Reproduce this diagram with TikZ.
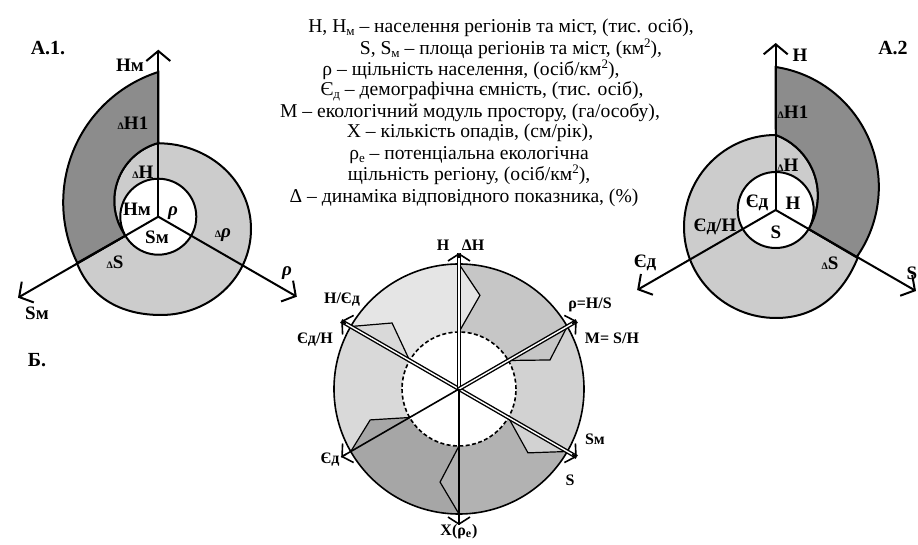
\documentclass[tikz,border=0pt]{standalone}
\usepackage{fontspec}
\setmainfont{Liberation Serif}
\usepackage{tikz}
\usetikzlibrary{calc,positioning,arrows.meta}

\newcommand{\smalldelta}{{\fontsize{5}{5}\selectfont Δ}}
\newcommand{\lsub}[1]{\raisebox{-0.25ex}{\fontsize{6.5}{7}\selectfont #1}}
\newcommand{\lsup}[1]{\raisebox{0.8ex}{\fontsize{6.5}{7}\selectfont #1}}

\begin{document}
\begin{tikzpicture}[
            x=0.5pt, y=0.5pt,
            axis/.style={-{Straight Barb[length=5pt,width=12pt]}, line width=1pt},
            ring/.style={draw, line width=1pt},
            light/.style={fill=gray!40},
            dark/.style={fill=gray!90},
            lbl/.style={font=\fontsize{9.5}{11}\selectfont\bfseries, inner sep=0pt},
            leg/.style={font=\fontsize{9.8}{11}\selectfont, anchor=base, inner sep=0pt, text height=6.8pt, text depth=1.8pt},
            rlbl/.style={font=\fontsize{8}{9}\selectfont\bfseries, inner sep=0pt},
            dbl/.style={double, double distance=0.7pt, line width=0.7pt},
            sgl/.style={line width=0.8pt},
            rtip/.style={-{Straight Barb[length=3.5pt,width=11pt]}, line width=0.8pt},
            profile/.style={line width=0.6pt},
            dashring/.style={draw, fill=white, line width=0.8pt, dash pattern=on 2pt off 1.2pt}
        ]
        \useasboundingbox (0,0) rectangle (918,-545);

        % --- LEGEND ---
        \node[leg] (leg1) at (501,-33) {H, H\lsub{м} – населення регіонів та міст, (тис. осіб),};
        \node[leg] (leg2) at (511,-55) {S, S\lsub{м} – площа регіонів та міст, (км\lsup{2}),};
        \node[leg] (leg3) at (471,-76) {ρ – щільність населення, (осіб/км\lsup{2}),};
        \node[leg] (leg4) at (482,-96) {Є\lsub{д} – демографічна ємність, (тис. осіб),};
        \node[leg] (leg5) at (470,-118) {М – екологічний модуль простору, (га/особу),};
        \node[leg] (leg6) at (470,-138) {Х – кількість опадів, (см/рік),};
        \node[leg] (leg7) at (469,-160) {ρ\lsub{е} – потенціальна екологічна};
        \node[leg] (leg8) at (469,-181) {щільність регіону, (осіб/км\lsup{2}),};
        \node[leg] (leg9) at (464,-203) {Δ – динаміка відповідного показника, (\%)};

        % --- A.1 ---
        \coordinate (o1) at (158.3,-216.7);
        \coordinate (o1h) at ($(o1)+(90:167)$);
        \coordinate (o1s) at ($(o1)+(210:162)$);
        \coordinate (o1r) at ($(o1)+(330:160)$);
        \path[light, ring] (158.3,-143.3) to[out=0,in=90] (251,-229) to[out=-90,in=0] (161,-315)
            to[out=180,in=-68] (77.1,-263.6) -- (125.4,-235.7)
            arc[start angle=215.5,end angle=105.4,radius=60] -- cycle;
        \path[dark, ring] (158.3,-72) arc[start angle=107.8,end angle=206.2,radius=137]
            -- (125.4,-235.7) arc[start angle=215.5,end angle=105.4,radius=60] -- cycle;
        \draw[ring, fill=white] (o1) circle[radius=38];
        \draw[axis] (o1) -- (o1h);
        \draw[axis] (o1) -- (o1s);
        \draw[axis] (o1) -- (o1r);

        \node[lbl, font=\fontsize{10}{11}\selectfont\bfseries] (t1) at (48,-48) {А.1.};
        \node[lbl] (a1hm) at (130,-65) {Hм};
        \node[lbl] (a1dh1) at (133,-123) {\smalldelta H1};
        \node[lbl] (a1dh) at (143,-172) {\smalldelta H};
        \node[lbl] (a1hmi) at (137,-209) {Hм};
        \node[lbl] (a1rho) at (173,-213) {\textit{ρ}};
        \node[lbl] (a1smi) at (157,-237) {Sм};
        \node[lbl] (a1drho) at (223,-235) {\smalldelta\textit{ρ}};
        \node[lbl] (a1ds) at (115,-262) {\smalldelta S};
        \node[lbl] (a1rhoa) at (287,-273) {\textit{ρ}};
        \node[lbl] (a1sm) at (37,-313) {Sм};

        % --- A.2 ---
        \coordinate (o2) at (775.7,-210);
        \coordinate (o2h) at ($(o2)+(90:167)$);
        \coordinate (o2e) at ($(o2)+(210:160)$);
        \coordinate (o2s) at ($(o2)+(330:162)$);
        \path[light, ring] (775.7,-135) to[out=180,in=90] (684,-227) to[out=-90,in=180] (776,-318)
            to[out=0,in=-112] (857.9,-257.4) -- (808.6,-229)
            arc[start angle=-31.1,end angle=69.6,radius=64.7] -- cycle;
        \path[dark, ring] (775.7,-67) arc[start angle=81.3,end angle=-35.3,radius=121.5]
            -- (808.6,-229) arc[start angle=-31.1,end angle=69.6,radius=64.7] -- cycle;
        \draw[ring, fill=white] (o2) circle[radius=38];
        \draw[axis] (o2) -- (o2h);
        \draw[axis] (o2) -- (o2e);
        \draw[axis] (o2) -- (o2s);

        \node[lbl, font=\fontsize{10}{11}\selectfont\bfseries] (t2) at (893,-48) {А.2};
        \node[lbl] (a2h) at (800,-55) {H};
        \node[lbl] (a2dh1) at (793,-112) {\smalldelta H1};
        \node[lbl] (a2dh) at (788,-165) {\smalldelta H};
        \node[lbl] (a2ei) at (757,-203) {Єд};
        \node[lbl] (a2hi) at (793,-203) {H};
        \node[lbl] (a2si) at (776,-232) {S};
        \node[lbl] (a2eh) at (715,-227) {Єд/H};
        \node[lbl] (a2ds) at (830,-263) {\smalldelta S};
        \node[lbl] (a2e) at (645,-263) {Єд};
        \node[lbl] (a2s) at (912,-273) {S};

        % --- Б ---
        \node[lbl, font=\fontsize{10}{11}\selectfont\bfseries] (t3) at (37,-360) {Б.};
        \begin{scope}[shift={(459,-389)}]
            \coordinate (bc) at (0,0);
            \foreach \a in {30,90,150,210,270,330}
                \coordinate (b\a) at (\a:136);
            % sectors
            \foreach \a/\col in {90/gray!20,150/gray!30,210/gray!70,270/gray!60,330/gray!35,30/gray!45}
                \fill[\col] (\a:57) -- (\a:125) arc[start angle=\a,end angle=\a+60,radius=125]
                    -- ({\a+60}:57) arc[start angle=\a+60,end angle=\a,radius=57] -- cycle;
            % profiles
            \foreach \a/\ma/\mr/\col in {90/77.4/96/gray!20,150/135.4/94/gray!30,210/199.2/94/gray!70,
                    270/258.5/95/gray!60,330/317.2/94/gray!35,30/17.7/95.5/gray!45} {
                    \fill[\col] (\a:125) -- (\ma:\mr) -- (\a:57) -- cycle;
                    \draw[profile] (\a:125) -- (\ma:\mr) -- (\a:57);
                }
            \draw[dashring] (bc) circle[radius=57];
            \draw[sgl] (bc) circle[radius=125];
            % axes
            \draw[dbl] (b150) -- (b330);
            \draw[dbl] (bc) -- (b90);
            \draw[dbl] (bc) -- (b30);
            \draw[sgl] (bc) -- (b270);
            \draw[sgl] (bc) -- (b210);
            \foreach \a in {30,90,150,210,270,330}
                \draw[rtip] ($(bc)!0.96!(b\a)$) -- (b\a);
        \end{scope}

        \node[rlbl] (bh) at (443,-245) {H};
        \node[rlbl] (bdh) at (473,-245) {ΔH};
        \node[rlbl] (bhe) at (342,-300) {H/Єд};
        \node[rlbl] (beh) at (315,-340) {Єд/H};
        \node[rlbl] (brho) at (590,-305) {ρ=H/S};
        \node[rlbl] (bm) at (612,-338) {M= S/H};
        \node[rlbl] (bsm) at (595,-439) {Sм};
        \node[rlbl] (bs) at (570,-480) {S};
        \node[rlbl] (be) at (330,-460) {Єд};
        \node[rlbl] (bx) at (459,-532) {X(ρ\textsubscript{е})};

    \end{tikzpicture}
\end{document}
